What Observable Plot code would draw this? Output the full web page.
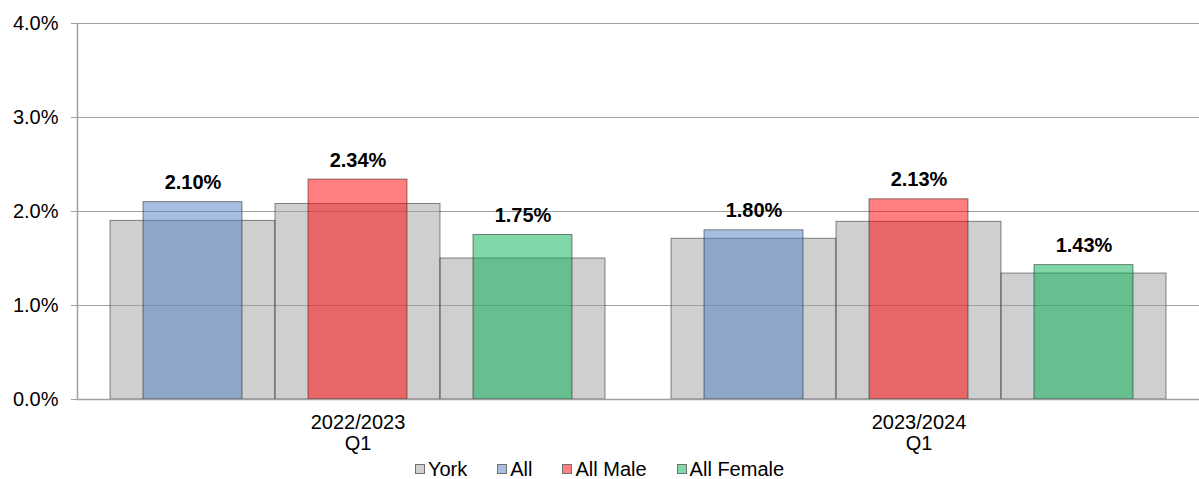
<!DOCTYPE html>
<html>
<head>
<meta charset="utf-8">
<script src="https://cdn.jsdelivr.net/npm/d3@7"></script>
<script src="https://cdn.jsdelivr.net/npm/@observablehq/plot@0.6"></script>
<style>
  body { margin: 0; background: #fff; font-family: "Liberation Sans", Arial, sans-serif; }
  #chart svg { display: block; }
  .legend { width: 1199px; height: 28px; display: flex; justify-content: center; align-items: center; font-size: 20px; color: #000; }
  .legend .item { display: flex; align-items: center; margin: 0 15px; }
  .legend .sw { width: 8px; height: 8px; border: 1px solid #707070; margin-right: 3px; }
</style>
</head>
<body>
<div id="chart"></div>
<div class="legend" id="legend"></div>
<script>
// ---- data (percent values) ----
const periods = ["2022/2023\nQ1", "2023/2024\nQ1"];
const groups = ["All", "All Male", "All Female"];
const york2022 = [1.90, 2.08, 1.50];
const region2022 = [2.10, 2.34, 1.75];
const york2023 = [1.71, 1.89, 1.34];
const region2023 = [1.80, 2.13, 1.43];
const yTicks = [0, 0.01, 0.02, 0.03, 0.04];
const legendLabels = ["York", "All", "All Male", "All Female"];

// ---- styles ----
const groupColors = {"All": "#4d7fc1", "All Male": "#ff0000", "All Female": "#00b050"};
const yorkColor = "#a0a0a0";
const swatchColors = {"York": "#d0d0d0", "All": "#a6bfe0", "All Male": "#ff8080", "All Female": "#80d8a8"};

const york = [];
const region = [];
[[york2022, region2022], [york2023, region2023]].forEach(([yv, rv], i) => {
  groups.forEach((g, j) => {
    york.push({period: periods[i], group: g, value: yv[j] / 100});
    region.push({period: periods[i], group: g, value: rv[j] / 100});
  });
});

const chart = Plot.plot({
  width: 1199,
  height: 455,
  marginLeft: 76,
  marginRight: 0,
  marginTop: 23,
  marginBottom: 56,
  style: {fontFamily: "'Liberation Sans', Arial, sans-serif", background: "#fff"},
  fx: {domain: periods, padding: 0, label: null},
  x: {domain: groups, paddingInner: 0, paddingOuter: 0.2, axis: null},
  y: {domain: [0, 0.04], label: null},
  marks: [
    Plot.ruleY(yTicks.slice(1), {stroke: "#a0a0a0"}),
    Plot.barY(york, {fx: "period", x: "group", y: "value", fill: yorkColor, fillOpacity: 0.5, stroke: "#000", strokeOpacity: 0.45}),
    Plot.barY(region, {fx: "period", x: "group", y: "value", fill: d => groupColors[d.group], fillOpacity: 0.5, stroke: "#000", strokeOpacity: 0.45, insetLeft: 33, insetRight: 33}),
    Plot.text(region, {fx: "period", x: "group", y: "value", text: d => (d.value * 100).toFixed(2) + "%", dy: -13, lineAnchor: "bottom", fontWeight: "bold", fontSize: 20, fill: "#000"}),
    Plot.ruleY([0], {stroke: "#a0a0a0", strokeWidth: 1.5}),
    Plot.frame({anchor: "left", fx: () => periods[0], stroke: "#a0a0a0", strokeWidth: 1.5}),
    Plot.axisY({ticks: yTicks, tickFormat: d3.format(".1%"), tickSize: 6, tickPadding: 13, fontSize: 20, stroke: "#a0a0a0", fill: "#000", label: null}),
    Plot.axisFx({anchor: "bottom", tickSize: 0, tickPadding: 15, fontSize: 20, lineHeight: 1.05, fill: "#000", label: null})
  ]
});
document.getElementById("chart").appendChild(chart);

const legend = document.getElementById("legend");
legendLabels.forEach(l => {
  const item = document.createElement("div");
  item.className = "item";
  const sw = document.createElement("span");
  sw.className = "sw";
  sw.style.background = swatchColors[l];
  item.appendChild(sw);
  item.appendChild(document.createTextNode(l));
  legend.appendChild(item);
});
</script>
</body>
</html>
